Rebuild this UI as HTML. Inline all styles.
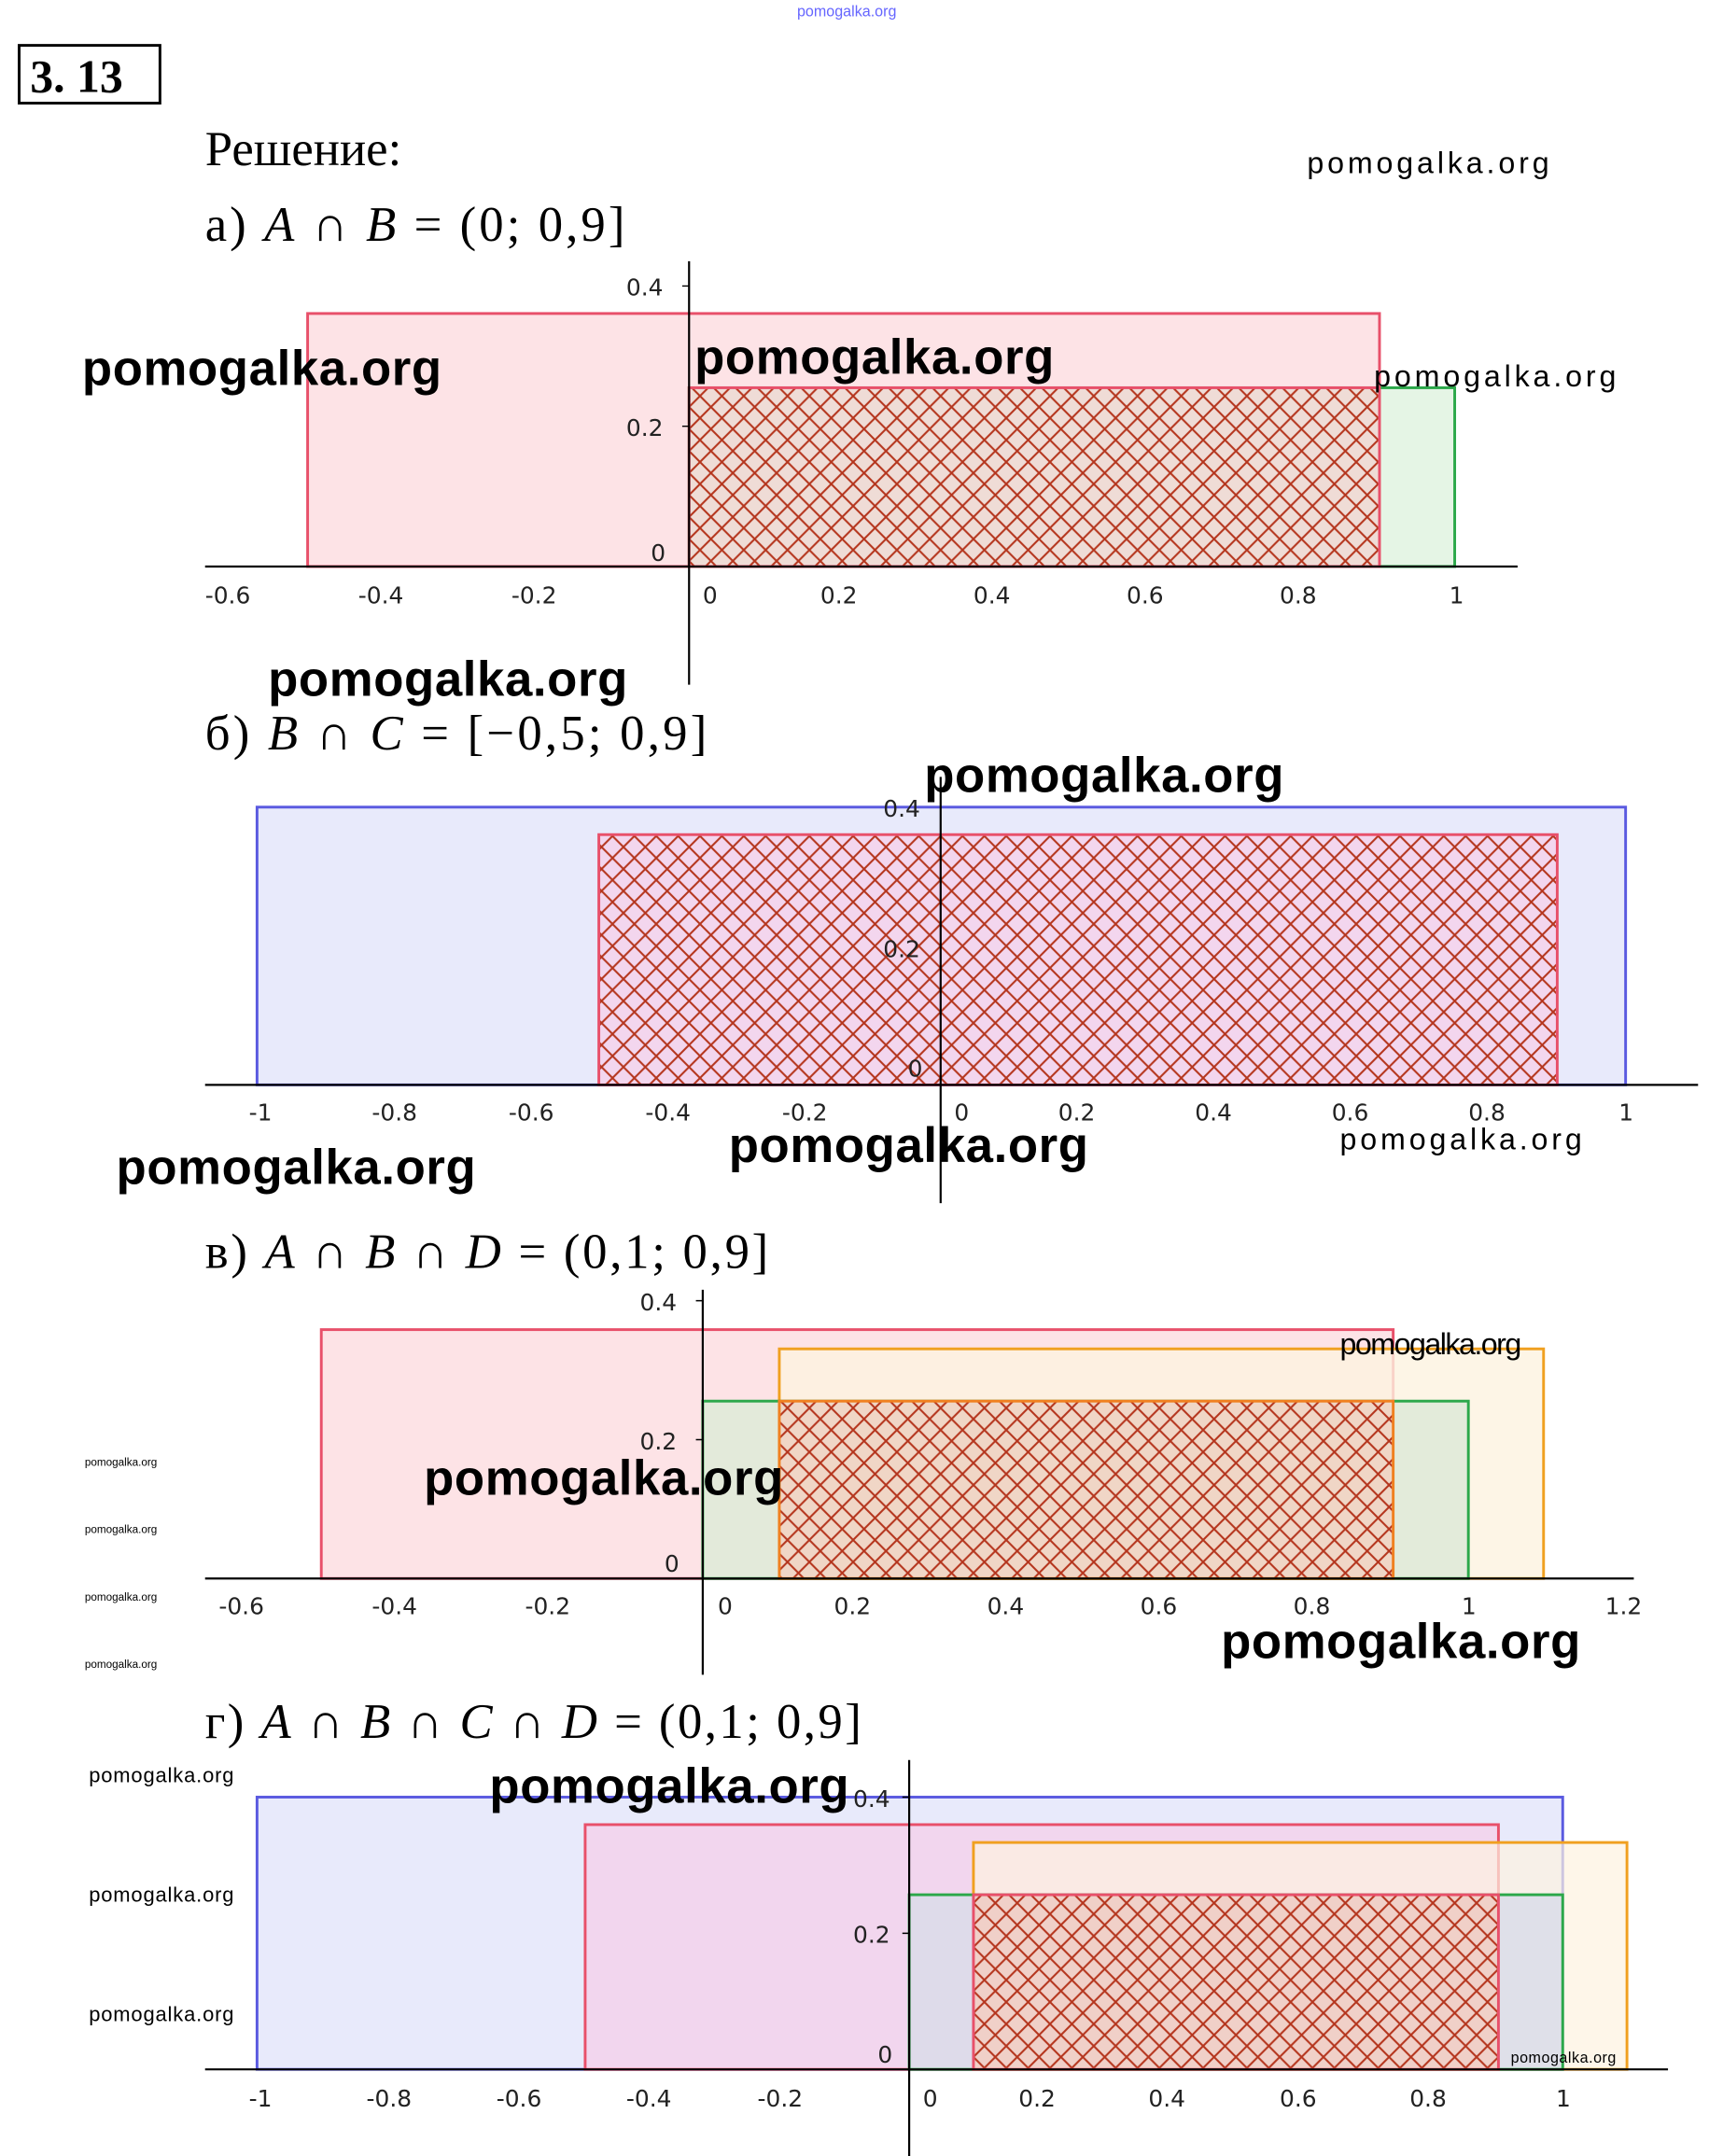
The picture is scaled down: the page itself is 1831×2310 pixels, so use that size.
<!DOCTYPE html>
<html><head><meta charset="utf-8"><style>html,body{margin:0;padding:0;background:#fff}svg{display:block}</style></head>
<body>
<svg width="1831" height="2310" viewBox="0 0 1250 1568" preserveAspectRatio="none" xmlns="http://www.w3.org/2000/svg">
<defs>
<pattern id="h" width="16" height="16" patternUnits="userSpaceOnUse">
<path d="M0 0L16 16M16 0L0 16" stroke="#b5361e" stroke-width="1.4"/>
</pattern>
</defs>
<style>
.t{font-family:"Liberation Serif",serif;font-size:36px}
.w{font-family:"Liberation Sans",sans-serif;font-weight:bold;font-size:36px}
.ws{font-family:"Liberation Sans",sans-serif;font-size:22px}
.tk{font-family:"DejaVu Sans",sans-serif;font-size:17px;fill:#222}
</style>
<text x="583" y="12" font-family="Liberation Sans" font-size="11" fill="#66f">pomogalka.org</text>
<rect x="14" y="33" width="103" height="42" fill="none" stroke="#000" stroke-width="2"/>
<text x="22" y="67" font-family="Liberation Serif" font-weight="bold" font-size="34">3. 13</text>
<text x="150" y="120" class="t">Решение:</text>
<text x="956" y="126" class="ws" font-size="24" textLength="177">pomogalka.org</text>

<!-- a -->
<text x="150" y="175" class="t" textLength="307">а) <tspan font-style="italic">A</tspan> ∩ <tspan font-style="italic">B</tspan> = (0; 0,9]</text>
<rect x="225" y="228" width="784" height="184" fill="#fde3e6" stroke="#e8506a" stroke-width="2"/>
<rect x="504" y="282" width="560" height="130" fill="#def3df" fill-opacity="0.8" stroke="#2ca84a" stroke-width="2"/>
<rect x="504" y="282" width="505" height="130" fill="#efdcd6"/>
<rect x="504" y="282" width="505" height="130" fill="url(#h)" stroke="#e8506a" stroke-width="2"/>
<line x1="150" y1="412" x2="1110" y2="412" stroke="#000" stroke-width="1.5"/>
<line x1="504" y1="190" x2="504" y2="498" stroke="#000" stroke-width="1.5"/>
<path d="M499 208h5M499 310h5" stroke="#000"/>
<g class="tk"><text x="150" y="439">-0.6</text><text x="262" y="439">-0.4</text><text x="374" y="439">-0.2</text><text x="514" y="439">0</text><text x="600" y="439">0.2</text><text x="712" y="439">0.4</text><text x="824" y="439">0.6</text><text x="936" y="439">0.8</text><text x="1060" y="439">1</text>
<text x="458" y="215">0.4</text><text x="458" y="317">0.2</text><text x="476" y="408">0</text></g>
<text x="60" y="280" class="w" textLength="263">pomogalka.org</text>
<text x="508" y="272" class="w" textLength="263">pomogalka.org</text>
<text x="1005" y="281" class="ws" font-size="25" textLength="177">pomogalka.org</text>
<text x="196" y="506" class="w" textLength="263">pomogalka.org</text>

<!-- b -->
<text x="150" y="545" class="t" textLength="367">б) <tspan font-style="italic">B</tspan> ∩ <tspan font-style="italic">C</tspan> = [−0,5; 0,9]</text>
<rect x="188" y="587" width="1001" height="202" fill="#e8eafb" stroke="#5a5ae0" stroke-width="2"/>
<rect x="438" y="607" width="701" height="182" fill="#f3d6ee"/>
<rect x="438" y="607" width="701" height="182" fill="url(#h)" stroke="#e8506a" stroke-width="2"/>
<line x1="150" y1="789" x2="1242" y2="789" stroke="#000" stroke-width="1.5"/>
<line x1="688" y1="565" x2="688" y2="875" stroke="#000" stroke-width="1.5"/>
<g class="tk"><text x="182" y="815">-1</text><text x="272" y="815">-0.8</text><text x="372" y="815">-0.6</text><text x="472" y="815">-0.4</text><text x="572" y="815">-0.2</text><text x="698" y="815">0</text><text x="774" y="815">0.2</text><text x="874" y="815">0.4</text><text x="974" y="815">0.6</text><text x="1074" y="815">0.8</text><text x="1184" y="815">1</text>
<text x="646" y="594">0.4</text><text x="646" y="696">0.2</text><text x="664" y="783">0</text></g>
<text x="676" y="576" class="w" textLength="263">pomogalka.org</text>
<text x="85" y="861" class="w" textLength="263">pomogalka.org</text>
<text x="533" y="845" class="w" textLength="263">pomogalka.org</text>
<text x="980" y="836" class="ws" font-size="25" textLength="177">pomogalka.org</text>

<!-- c -->
<text x="150" y="922" class="t" textLength="412">в) <tspan font-style="italic">A</tspan> ∩ <tspan font-style="italic">B</tspan> ∩ <tspan font-style="italic">D</tspan> = (0,1; 0,9]</text>
<rect x="235" y="967" width="784" height="181" fill="#fde3e6" stroke="#e8506a" stroke-width="2"/>
<rect x="570" y="981" width="559" height="167" fill="#fdf2e0" fill-opacity="0.8" stroke="#f0a020" stroke-width="2"/>
<rect x="514" y="1019" width="560" height="129" fill="#e0ead8" fill-opacity="0.9" stroke="#2ca84a" stroke-width="2"/>
<rect x="570" y="1019" width="449" height="129" fill="#f0d6c6"/>
<rect x="570" y="1019" width="449" height="129" fill="url(#h)" stroke="#f08020" stroke-width="2"/>
<line x1="150" y1="1148" x2="1195" y2="1148" stroke="#000" stroke-width="1.5"/>
<line x1="514" y1="938" x2="514" y2="1218" stroke="#000" stroke-width="1.5"/>
<path d="M509 946h5M509 1047h5" stroke="#000"/>
<g class="tk"><text x="160" y="1174">-0.6</text><text x="272" y="1174">-0.4</text><text x="384" y="1174">-0.2</text><text x="525" y="1174">0</text><text x="610" y="1174">0.2</text><text x="722" y="1174">0.4</text><text x="834" y="1174">0.6</text><text x="946" y="1174">0.8</text><text x="1069" y="1174">1</text><text x="1174" y="1174">1.2</text>
<text x="468" y="953">0.4</text><text x="468" y="1054">0.2</text><text x="486" y="1143">0</text></g>
<text x="980" y="985" class="ws" font-size="18" textLength="133">pomogalka.org</text>
<text x="310" y="1087" class="w" textLength="263">pomogalka.org</text>
<text x="893" y="1206" class="w" textLength="263">pomogalka.org</text>
<g font-family="Liberation Sans" font-size="8"><text x="62" y="1066">pomogalka.org</text><text x="62" y="1115">pomogalka.org</text><text x="62" y="1164">pomogalka.org</text><text x="62" y="1213">pomogalka.org</text></g>

<!-- d -->
<text x="150" y="1264" class="t" textLength="480">г) <tspan font-style="italic">A</tspan> ∩ <tspan font-style="italic">B</tspan> ∩ <tspan font-style="italic">C</tspan> ∩ <tspan font-style="italic">D</tspan> = (0,1; 0,9]</text>
<rect x="188" y="1307" width="955" height="198" fill="#e8eafb" stroke="#5a5ae0" stroke-width="2"/>
<rect x="428" y="1327" width="668" height="178" fill="#f2d6ee" stroke="#e8506a" stroke-width="2"/>
<rect x="712" y="1340" width="478" height="165" fill="#fdf2e0" fill-opacity="0.7" stroke="#f0a020" stroke-width="2"/>
<rect x="665" y="1378" width="478" height="127" fill="#d8dce8" fill-opacity="0.8" stroke="#2ca84a" stroke-width="2"/>
<rect x="712" y="1378" width="384" height="127" fill="#f0d0c8"/>
<rect x="712" y="1378" width="384" height="127" fill="url(#h)" stroke="#e8506a" stroke-width="2"/>
<line x1="150" y1="1505" x2="1220" y2="1505" stroke="#000" stroke-width="1.5"/>
<line x1="665" y1="1280" x2="665" y2="1568" stroke="#000" stroke-width="1.5"/>
<path d="M660 1307h5M660 1406h5" stroke="#000"/>
<g class="tk"><text x="182" y="1532">-1</text><text x="268" y="1532">-0.8</text><text x="363" y="1532">-0.6</text><text x="458" y="1532">-0.4</text><text x="554" y="1532">-0.2</text><text x="675" y="1532">0</text><text x="745" y="1532">0.2</text><text x="840" y="1532">0.4</text><text x="936" y="1532">0.6</text><text x="1031" y="1532">0.8</text><text x="1138" y="1532">1</text>
<text x="624" y="1314">0.4</text><text x="624" y="1413">0.2</text><text x="642" y="1500">0</text></g>
<text x="358" y="1311" class="w" textLength="263">pomogalka.org</text>
<g font-family="Liberation Sans" font-size="15"><text x="65" y="1296" textLength="106">pomogalka.org</text><text x="65" y="1383" textLength="106">pomogalka.org</text><text x="65" y="1470" textLength="106">pomogalka.org</text></g>
<text x="1105" y="1500" font-family="Liberation Sans" font-size="11" textLength="77">pomogalka.org</text>
</svg>
</body></html>
